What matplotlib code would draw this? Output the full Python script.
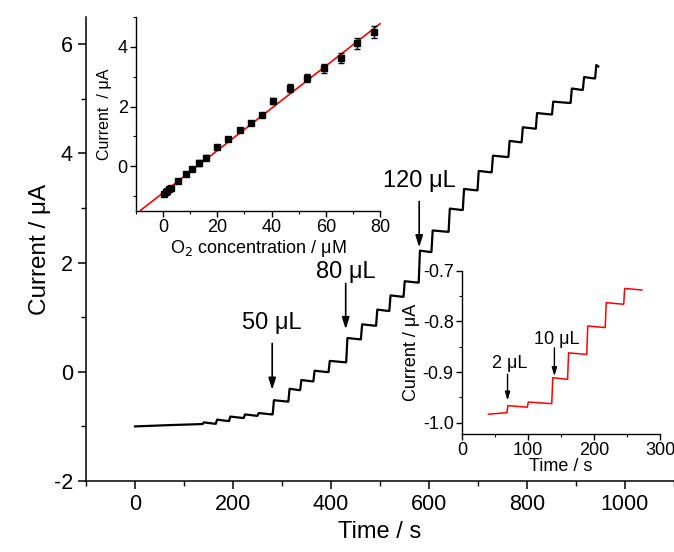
import numpy as np
import matplotlib
matplotlib.use("Agg")
import matplotlib.pyplot as plt
from matplotlib.ticker import MultipleLocator

plt.rcParams['font.family'] = ['Liberation Sans', 'DejaVu Sans']
plt.rcParams['axes.unicode_minus'] = False

# ---------------- data ----------------
# main amperometric trace: baseline then step times (s) and levels (uA)
main_start_t = [0, 71, 136]
main_start_I = [-1.00, -0.976, -0.957]
main_step_t = [138, 165, 192, 222, 250, 281, 313, 337, 364, 395, 431, 461, 492,
               519, 548, 579, 605, 640, 669, 699, 728, 762, 789, 818, 851, 889,
               914, 939]
main_step_I = [-0.926, -0.876, -0.82, -0.78, -0.755, -0.52, -0.31, -0.15, 0.02,
               0.20, 0.62, 0.87, 1.14, 1.40, 1.66, 2.22, 2.59, 2.99, 3.35, 3.68,
               3.96, 4.23, 4.48, 4.74, 4.95, 5.19, 5.40, 5.62]
main_end_t = 948

# calibration inset
conc = [0.2, 0.9, 1.5, 2.3, 2.9, 5.6, 8.3, 10.7, 13.3, 15.9, 20.0, 24.1, 28.3,
        32.4, 36.6, 40.6, 46.8, 53.0, 59.3, 65.5, 71.7, 77.8]
cal_I = [-0.93, -0.88, -0.84, -0.76, -0.73, -0.48, -0.27, -0.09, 0.11, 0.29,
         0.63, 0.92, 1.20, 1.46, 1.72, 2.19, 2.62, 2.96, 3.28, 3.63, 4.12, 4.49]
cal_err = [0.04, 0.04, 0.04, 0.04, 0.04, 0.04, 0.05, 0.06, 0.10, 0.07, 0.05,
           0.06, 0.06, 0.05, 0.06, 0.11, 0.13, 0.13, 0.16, 0.18, 0.19, 0.21]
fit_slope = 0.0708
fit_intercept = -0.89
fit_range = [-8.3, 80.0]

# low-concentration inset trace
low_start_t = [40, 67]
low_start_I = [-0.983, -0.980]
low_step_t = [68, 99, 136, 160, 189, 217, 245]
low_step_I = [-0.966, -0.959, -0.911, -0.862, -0.809, -0.763, -0.735]
low_end_t = 274

# annotations: (label, x, text_y, arrow_top, arrow_bottom)
main_notes = [("50 μL", 280, 0.89, 0.52, -0.33),
              ("80 μL", 430, 1.83, 1.62, 0.78),
              ("120 μL", 580, 3.50, 3.12, 2.28)]
low_notes = [("2 μL", 69, -0.882, -0.904, -0.956),
             ("10 μL", 140, -0.836, -0.852, -0.908)]


def build_trace(start_t, start_I, step_t, step_I, end_t, rise, sag):
    t = list(start_t)
    y = list(start_I)
    prev = start_I[-1]
    for k, (ts, lv) in enumerate(zip(step_t, step_I)):
        nxt = step_t[k + 1] if k + 1 < len(step_t) else end_t
        t += [ts, ts + rise, nxt - rise]
        y += [prev, lv, lv - sag]
        prev = lv - sag
    return np.array(t), np.array(y)


fig = plt.figure(figsize=(6.74, 5.52), dpi=100)

# ---------------- main axes ----------------
ax = fig.add_axes([86 / 674, 1 - 481 / 552, 588 / 674, 464 / 552])
mt, mI = build_trace(main_start_t, main_start_I, main_step_t, main_step_I,
                     main_end_t, 2.5, 0.025)
ax.plot(mt, mI, color='black', lw=1.6)
ax.set_xlim(-100, 1100)
ax.set_ylim(-2, 6.5)
ax.xaxis.set_major_locator(MultipleLocator(200))
ax.xaxis.set_minor_locator(MultipleLocator(100))
ax.yaxis.set_major_locator(MultipleLocator(2))
ax.yaxis.set_minor_locator(MultipleLocator(1))
for s in ['top', 'right']:
    ax.spines[s].set_visible(False)
for s in ['left', 'bottom']:
    ax.spines[s].set_linewidth(1.1)
ax.tick_params(which='major', direction='out', length=6, width=1.1,
               labelsize=15.5)
ax.tick_params(which='minor', direction='out', length=3.5, width=1.0)
ax.set_xlabel('Time / s', fontsize=17, labelpad=4)
ax.set_ylabel('Current / μA', fontsize=17.5, labelpad=2)

for lab, x, ty, a0, a1 in main_notes:
    ax.annotate('', xy=(x, a1), xytext=(x, a0),
                arrowprops=dict(arrowstyle='-|>,head_length=0.7,head_width=0.22',
                                color='black', lw=1.2, shrinkA=0, shrinkB=0))
    ax.text(x, ty, lab, fontsize=17, ha='center', va='center')

# ---------------- calibration inset ----------------
ax1 = fig.add_axes([136 / 674, 1 - 211 / 552, 244 / 674, 194 / 552])
xf = np.array(fit_range)
ax1.plot(xf, fit_intercept + fit_slope * xf, color='red', lw=1.2,
         clip_on=False, zorder=1)
ax1.errorbar(conc, cal_I, yerr=cal_err, fmt='s', color='black', ms=4.5,
             ecolor='black', elinewidth=1.0, capsize=2, capthick=1.0, zorder=3)
ax1.set_xlim(-10, 80)
ax1.set_ylim(-1.5, 5)
ax1.xaxis.set_major_locator(MultipleLocator(20))
ax1.xaxis.set_minor_locator(MultipleLocator(10))
ax1.yaxis.set_major_locator(MultipleLocator(2))
ax1.yaxis.set_minor_locator(MultipleLocator(1))
for s in ['top', 'right']:
    ax1.spines[s].set_visible(False)
for s in ['left', 'bottom']:
    ax1.spines[s].set_linewidth(1.0)
ax1.tick_params(which='major', direction='out', length=4, width=1.0,
                labelsize=13, pad=2)
ax1.tick_params(which='minor', direction='out', length=2.5, width=0.8)
ax1.set_xlabel('O$_2$ concentration / μM', fontsize=13, labelpad=1)
ax1.set_ylabel('Current  / μA', fontsize=11.5, labelpad=4)

# ---------------- low-concentration inset ----------------
ax2 = fig.add_axes([462 / 674, 1 - 434 / 552, 198 / 674, 163.3 / 552])
lt, lI = build_trace(low_start_t, low_start_I, low_step_t, low_step_I,
                     low_end_t, 1.5, 0.003)
ax2.plot(lt, lI, color='red', lw=1.1)
ax2.set_xlim(0, 300)
ax2.set_ylim(-1.022, -0.7)
ax2.xaxis.set_major_locator(MultipleLocator(100))
ax2.xaxis.set_minor_locator(MultipleLocator(50))
ax2.yaxis.set_major_locator(MultipleLocator(0.1))
ax2.yaxis.set_minor_locator(MultipleLocator(0.05))
for s in ['top', 'right']:
    ax2.spines[s].set_visible(False)
for s in ['left', 'bottom']:
    ax2.spines[s].set_linewidth(1.0)
ax2.tick_params(which='major', direction='out', length=4, width=1.0,
                labelsize=13, pad=2)
ax2.tick_params(which='minor', direction='out', length=2.5, width=0.8)
ax2.set_xlabel('Time / s', fontsize=13, labelpad=-1)
ax2.set_ylabel('Current / μA', fontsize=13, labelpad=2)
ax2.yaxis.set_major_formatter(plt.FuncFormatter(lambda v, p: f'{v:.1f}'))

for lab, x, ty, a0, a1 in low_notes:
    ax2.annotate('', xy=(x, a1), xytext=(x, a0),
                 arrowprops=dict(arrowstyle='-|>,head_length=0.5,head_width=0.15',
                                 color='black', lw=1.0, shrinkA=0, shrinkB=0))
    ax2.text(x + 3, ty, lab, fontsize=13, ha='center', va='center')

fig.savefig('out.png', dpi=100)
